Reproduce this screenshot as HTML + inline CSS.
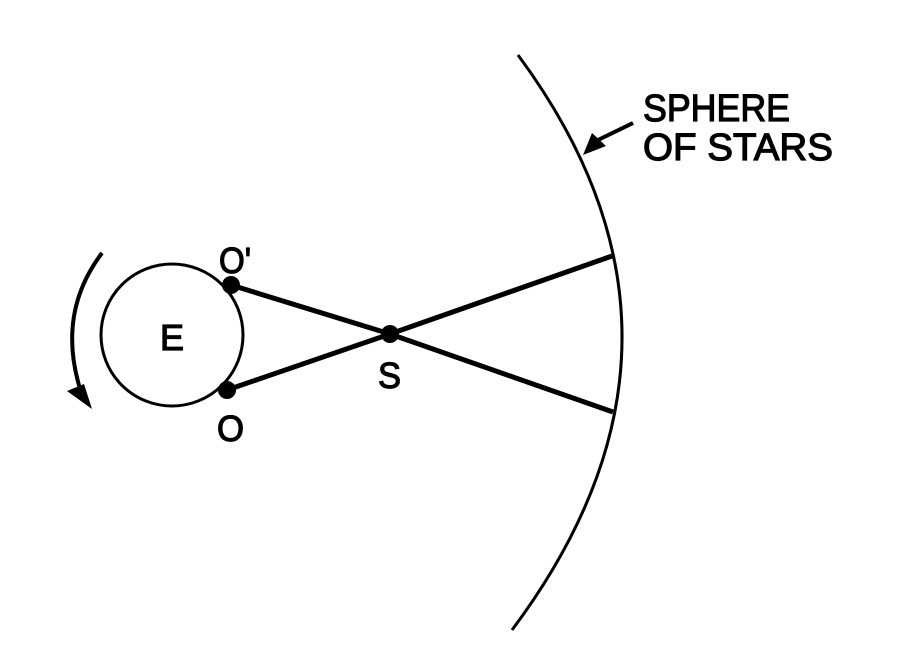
<!DOCTYPE html>
<html><head><style>
html,body{margin:0;padding:0;background:#fff;}
svg{display:block;}
text{font-family:"Liberation Sans",sans-serif;fill:#000;stroke:#000;stroke-width:1.2;}
</style></head><body>
<svg width="904" height="665" viewBox="0 0 904 665">
<circle cx="172" cy="335" r="71" fill="none" stroke="#000" stroke-width="3"/>
<path d="M102,253 Q55,315 82,395" fill="none" stroke="#000" stroke-width="4"/>
<polygon points="67,391 84,384 92,409" fill="#000"/>
<path d="M518,55 Q729,340 512,630" fill="none" stroke="#000" stroke-width="3"/>
<line x1="231" y1="285" x2="390" y2="334" stroke="#000" stroke-width="5"/>
<line x1="390" y1="334" x2="613" y2="412" stroke="#000" stroke-width="5"/>
<line x1="227" y1="390" x2="390" y2="334" stroke="#000" stroke-width="5"/>
<line x1="390" y1="334" x2="612" y2="256" stroke="#000" stroke-width="5"/>
<circle cx="231" cy="285" r="9" fill="#000"/>
<circle cx="227" cy="390" r="9" fill="#000"/>
<circle cx="390" cy="334" r="9" fill="#000"/>
<line x1="633" y1="123" x2="598" y2="140" stroke="#000" stroke-width="4"/>
<polygon points="583,155 592,133 606,146" fill="#000"/>
<text x="643" y="121" font-size="38" textLength="147" lengthAdjust="spacingAndGlyphs">SPHERE</text>
<text x="643" y="160" font-size="38" textLength="190" lengthAdjust="spacingAndGlyphs">OF STARS</text>
<text x="160" y="350" font-size="36" textLength="24" lengthAdjust="spacingAndGlyphs">E</text>
<text x="219" y="273" font-size="36" textLength="32" lengthAdjust="spacingAndGlyphs">O'</text>
<text x="217" y="441" font-size="36" textLength="27" lengthAdjust="spacingAndGlyphs">O</text>
<text x="378" y="388" font-size="36" textLength="23" lengthAdjust="spacingAndGlyphs">S</text>
</svg>
</body></html>
